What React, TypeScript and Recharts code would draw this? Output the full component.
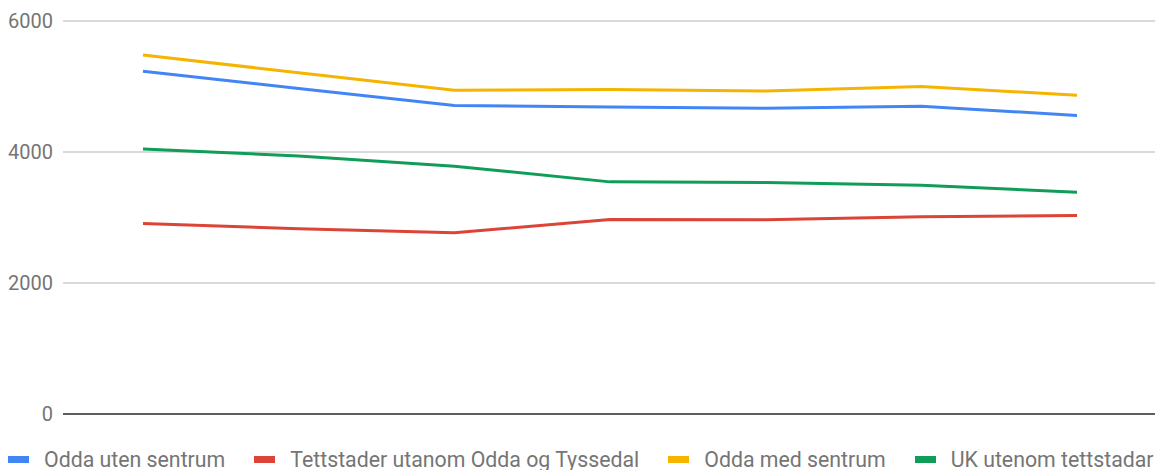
import React from "react";
import { LineChart, Line, XAxis, YAxis, CartesianGrid, Legend, ReferenceLine } from "recharts";

// X categories are not labelled in the source chart
const periods = ["1", "2", "3", "4", "5", "6", "7"];

const oddaUtenSentrum = [5233, 4970, 4709, 4688, 4668, 4699, 4557];
const tettstaderUtanom = [2909, 2830, 2766, 2970, 2964, 3010, 3031];
const oddaMedSentrum = [5481, 5210, 4942, 4953, 4932, 4999, 4867];
const ukUtenomTettstadar = [4047, 3940, 3784, 3544, 3535, 3494, 3387];

const yTicks = [0, 2000, 4000, 6000];

const SERIES = [
  { key: "oddaUten", name: "Odda uten sentrum", color: "#4285F4" },
  { key: "tettstader", name: "Tettstader utanom Odda og Tyssedal", color: "#DB4437" },
  { key: "oddaMed", name: "Odda med sentrum", color: "#F4B400" },
  { key: "uk", name: "UK utenom tettstadar", color: "#0F9D58" },
];

const data = periods.map((p, i) => ({
  period: p,
  oddaUten: oddaUtenSentrum[i],
  tettstader: tettstaderUtanom[i],
  oddaMed: oddaMedSentrum[i],
  uk: ukUtenomTettstadar[i],
}));

const FONT = "Roboto, 'Noto Sans', sans-serif";

function LegendContent() {
  return (
    <div
      style={{
        height: 56,
        boxSizing: "border-box",
        paddingTop: 35,
        paddingLeft: 8,
        display: "flex",
        alignItems: "center",
        fontFamily: FONT,
        fontSize: 21.3,
        lineHeight: "22px",
        color: "#757575",
        whiteSpace: "nowrap",
      }}
    >
      {SERIES.map((s) => (
        <div key={s.key} style={{ display: "flex", alignItems: "center", marginRight: 29 }}>
          <span
            style={{ display: "inline-block", width: 21, height: 7, background: s.color, marginRight: 15 }}
          />
          <span>{s.name}</span>
        </div>
      ))}
    </div>
  );
}

export default function App() {
  return (
    <div style={{ position: "absolute", left: 0, top: 0, width: 1155, height: 470, background: "#fff" }}>
      <LineChart width={1155} height={470} data={data} margin={{ top: 21, right: 0, bottom: 0, left: 0 }}>
        <CartesianGrid vertical={false} stroke="#cccccc" strokeWidth={1.5} />
        <XAxis
          dataKey="period"
          tick={false}
          tickLine={false}
          axisLine={false}
          height={0}
          padding={{ left: 80, right: 78 }}
        />
        <YAxis
          domain={[0, 6000]}
          ticks={yTicks}
          width={63}
          axisLine={false}
          tickLine={false}
          tickSize={0}
          tickMargin={10}
          tick={{ fill: "#757575", fontSize: 20, fontFamily: FONT }}
        />
        <ReferenceLine y={0} stroke="#333333" strokeWidth={1.5} />
        <Legend verticalAlign="bottom" content={<LegendContent />} wrapperStyle={{ left: 0, width: 1155 }} />
        {SERIES.map((s) => (
          <Line
            key={s.key}
            dataKey={s.key}
            name={s.name}
            stroke={s.color}
            strokeWidth={3}
            dot={false}
            activeDot={false}
            type="linear"
            isAnimationActive={false}
          />
        ))}
      </LineChart>
    </div>
  );
}
